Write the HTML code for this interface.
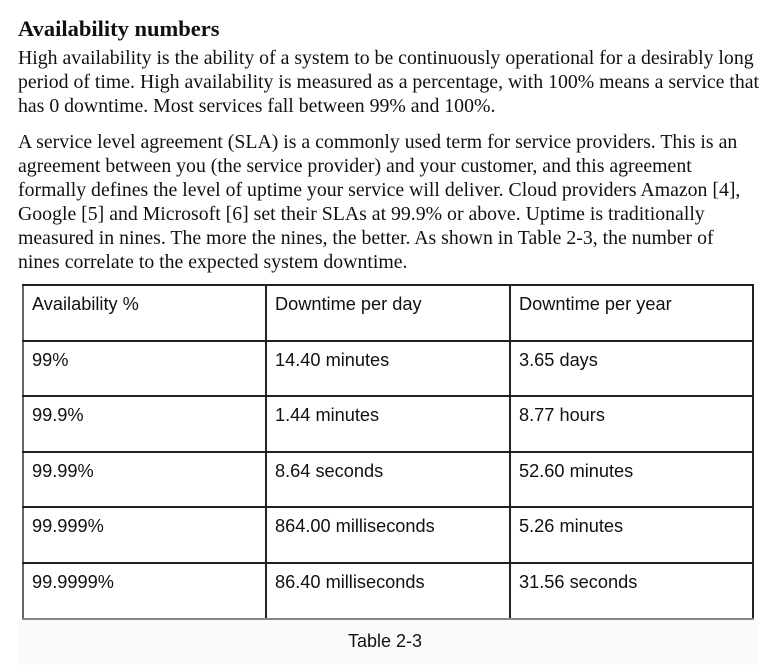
<!DOCTYPE html>
<html><head><meta charset="utf-8"><style>
body{margin:0;width:781px;height:665px;background:#fff;position:relative;overflow:hidden;font-family:"Liberation Serif",serif;color:#111}
h2{position:absolute;left:18px;top:16px;margin:0;font-size:22.5px;font-weight:bold}
p{position:absolute;left:18px;margin:0;font-size:19.8px;line-height:24px;white-space:nowrap}
.img{position:absolute;left:17px;top:619px;width:742px;height:46px;background:#fafafa}
table{position:absolute;left:22px;top:284px;border-collapse:collapse;font-family:"Liberation Sans",sans-serif;font-size:18.2px;color:#111}
td{border:2px solid #222;width:229px;height:55.6px;vertical-align:top;padding:8px 0 0 8px;box-sizing:border-box}
td:first-child{border-left-color:#666}
tr:last-child td{border-bottom-color:#888}
.cap{position:absolute;left:348px;top:631px;font-family:"Liberation Sans",sans-serif;font-size:18px}
</style></head><body>
<h2>Availability numbers</h2>
<p style="top:46px">High availability is the ability of a system to be continuously operational for a desirably long<br>period of time. High availability is measured as a percentage, with 100% means a service that<br>has 0 downtime. Most services fall between 99% and 100%.</p>
<p style="top:130px">A service level agreement (SLA) is a commonly used term for service providers. This is an<br>agreement between you (the service provider) and your customer, and this agreement<br>formally defines the level of uptime your service will deliver. Cloud providers Amazon [4],<br>Google [5] and Microsoft [6] set their SLAs at 99.9% or above. Uptime is traditionally<br>measured in nines. The more the nines, the better. As shown in Table 2-3, the number of<br>nines correlate to the expected system downtime.</p>
<div class="img"></div>
<table>
<tr><td style="width:243px">Availability %</td><td style="width:244px">Downtime per day</td><td style="width:243px">Downtime per year</td></tr>
<tr><td>99%</td><td>14.40 minutes</td><td>3.65 days</td></tr>
<tr><td>99.9%</td><td>1.44 minutes</td><td>8.77 hours</td></tr>
<tr><td>99.99%</td><td>8.64 seconds</td><td>52.60 minutes</td></tr>
<tr><td>99.999%</td><td>864.00 milliseconds</td><td>5.26 minutes</td></tr>
<tr><td>99.9999%</td><td>86.40 milliseconds</td><td>31.56 seconds</td></tr>
</table>
<div class="cap">Table 2-3</div>
</body></html>
